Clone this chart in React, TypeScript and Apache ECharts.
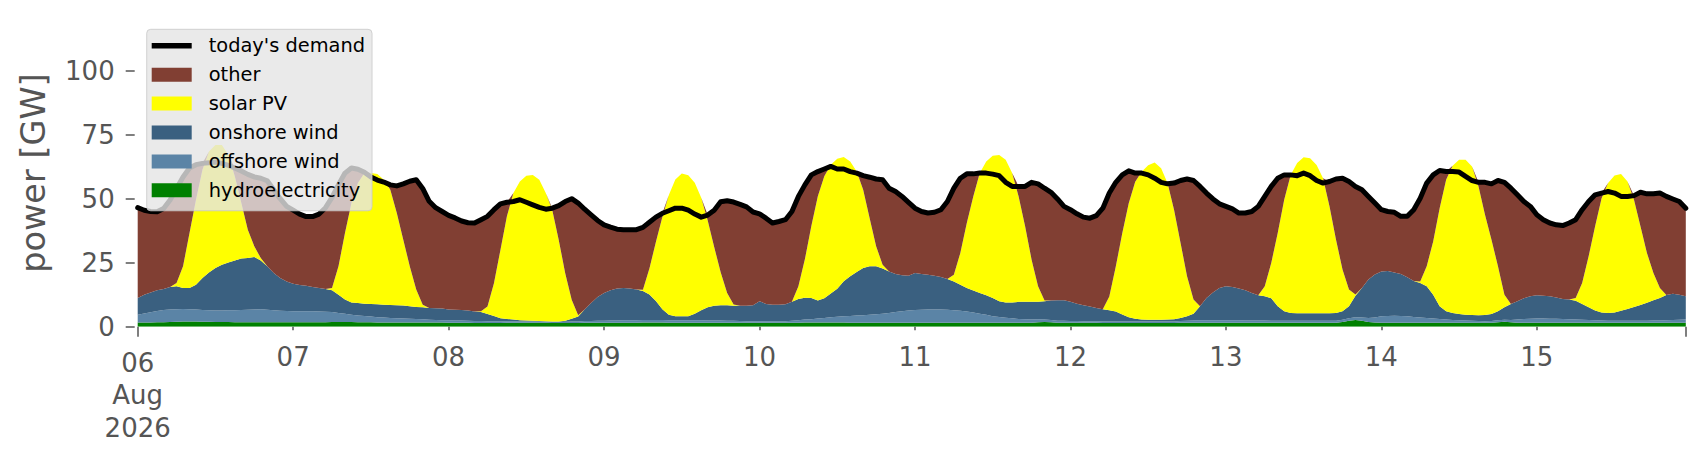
import React, { useEffect, useRef } from "react";
import * as echarts from "echarts";

// x tick labels (one per day at 00:00; the first is the pandas-style major label)
const xTickLabels = ["06\nAug\n2026", "07", "08", "09", "10", "11", "12", "13", "14", "15"];
const yTickValues = [0, 25, 50, 75, 100];

// hourly values in GW, 06 Aug 00:00 .. 15 Aug 23:00 (24 values per row = one day)
const demand = [
  46.5, 45.5, 45, 44.9, 46.2, 49.5, 54, 58.5, 62, 63.3, 63.8, 64, 64.3, 63.8, 63, 62, 60.8, 59.5, 58.5, 58, 57, 53.5, 50, 47,
  45.5, 44, 43, 43, 44, 46.5, 50.5, 55.5, 60, 62, 61.5, 60.3, 58.5, 57.3, 56.5, 55.4, 55, 55.8, 56.8, 57.4, 54, 49, 46.5, 45,
  43.5, 42.5, 41.3, 40.6, 40.5, 41.8, 43.1, 45.7, 48, 48.6, 48.9, 49.6, 48.6, 47.6, 46.6, 45.9, 46.3, 47.3, 48.9, 50, 48.3, 45.9, 43.7, 41.5,
  39.8, 38.9, 38.1, 37.9, 37.9, 37.9, 38.8, 40.8, 42.8, 44.3, 45.3, 46.3, 46.3, 45.5, 44, 42.8, 43.6, 45.5, 48.8, 49.2, 48.7, 47.8, 46.8, 44.8,
  44.1, 42.4, 40.5, 41.1, 41.8, 45, 50.9, 55.4, 59.3, 60.6, 61.6, 62.6, 61.6, 61.6, 60.6, 60, 59, 58.4, 57.7, 57.4, 54.1, 52.8, 50.9, 48.6,
  46.3, 45, 44.4, 44.7, 45.7, 48.9, 54.1, 58, 59.7, 59.7, 60, 60, 59.6, 59, 56.4, 54.8, 54.8, 54.8, 56.4, 55.8, 54.1, 52.5, 49.9, 47,
  45.7, 44.1, 42.8, 42.4, 43.4, 46.3, 52.2, 56.4, 59.3, 60.9, 60, 60, 59.3, 58, 56.4, 55.8, 56.1, 57.1, 57.7, 57.1, 54.8, 52.2, 49.9, 48,
  47, 46, 44.4, 44.4, 45, 47, 50.9, 54.8, 58, 59.3, 59.3, 59, 60, 59, 57.1, 56.1, 56.7, 57.7, 58, 56.7, 54.8, 53.5, 50.9, 48.3,
  45.7, 45, 44.7, 43.1, 43.1, 45.7, 50.2, 56.1, 59.3, 61, 60.6, 60.6, 60.4, 58.7, 57.1, 56.4, 56.4, 55.8, 57.1, 56.4, 54.1, 51.5, 48.9, 47,
  43.7, 41.8, 40.5, 39.8, 39.5, 40.5, 41.8, 45.7, 48.9, 51.5, 52.2, 52.8, 52.2, 50.9, 50.9, 51.2, 52.5, 51.9, 51.9, 52.2, 50.9, 49.9, 48.9, 46.3,
];

const hydro = [
  1.6, 1.6, 1.6, 1.7, 1.7, 1.8, 1.9, 2.0, 2.0, 2.0, 1.9, 1.9, 1.8, 1.8, 1.8, 1.7, 1.7, 1.7, 1.7, 1.7, 1.7, 1.7, 1.7, 1.7,
  1.7, 1.7, 1.7, 1.7, 1.7, 1.7, 1.8, 1.8, 1.8, 1.8, 1.7, 1.7, 1.7, 1.6, 1.6, 1.6, 1.6, 1.6, 1.6, 1.6, 1.6, 1.6, 1.6, 1.6,
  1.5, 1.5, 1.5, 1.5, 1.4, 1.4, 1.4, 1.4, 1.4, 1.5, 1.5, 1.5, 1.5, 1.5, 1.5, 1.5, 1.4, 1.4, 1.4, 1.4, 1.4, 1.5, 1.5, 1.5,
  1.5, 1.5, 1.5, 1.5, 1.5, 1.5, 1.6, 1.6, 1.6, 1.6, 1.5, 1.5, 1.5, 1.5, 1.5, 1.5, 1.5, 1.5, 1.5, 1.5, 1.5, 1.5, 1.5, 1.5,
  1.5, 1.5, 1.5, 1.5, 1.5, 1.5, 1.5, 1.6, 1.6, 1.6, 1.6, 1.6, 1.6, 1.6, 1.5, 1.5, 1.5, 1.5, 1.5, 1.5, 1.5, 1.5, 1.5, 1.5,
  1.5, 1.5, 1.5, 1.5, 1.5, 1.5, 1.5, 1.5, 1.5, 1.5, 1.5, 1.5, 1.5, 1.5, 1.5, 1.5, 1.5, 1.5, 1.5, 1.7, 1.8, 1.7, 1.5, 1.5,
  1.5, 1.5, 1.5, 1.5, 1.5, 1.4, 1.4, 1.4, 1.4, 1.4, 1.4, 1.4, 1.4, 1.4, 1.4, 1.4, 1.4, 1.5, 1.5, 1.5, 1.5, 1.5, 1.5, 1.5,
  1.5, 1.5, 1.5, 1.5, 1.5, 1.5, 1.5, 1.5, 1.5, 1.5, 1.5, 1.5, 1.5, 1.5, 1.5, 1.5, 1.5, 1.5, 1.8, 2.3, 2.6, 2.3, 1.8, 1.6,
  1.5, 1.5, 1.5, 1.5, 1.5, 1.5, 1.5, 1.5, 1.5, 1.5, 1.5, 1.5, 1.5, 1.5, 1.5, 1.5, 1.5, 1.5, 1.7, 1.9, 1.7, 1.5, 1.5, 1.5,
  1.5, 1.5, 1.5, 1.5, 1.5, 1.5, 1.5, 1.5, 1.5, 1.5, 1.5, 1.5, 1.5, 1.5, 1.5, 1.5, 1.5, 1.5, 1.5, 1.5, 1.5, 1.5, 1.5, 1.5,
];

const offshoreWind = [
  3.1, 3.6, 4.0, 4.4, 4.8, 4.9, 4.9, 4.9, 4.8, 4.7, 4.6, 4.5, 4.5, 4.5, 4.6, 4.7, 4.8, 4.9, 5.0, 5.1, 4.9, 4.7, 4.5, 4.4,
  4.3, 4.3, 4.3, 4.3, 4.2, 4.1, 3.9, 3.6, 3.3, 2.9, 2.7, 2.5, 2.3, 2.1, 2.0, 1.8, 1.7, 1.6, 1.5, 1.4, 1.3, 1.1, 1.0, 0.9,
  1.0, 0.9, 0.9, 0.8, 0.8, 0.8, 0.7, 0.7, 0.6, 0.6, 0.6, 0.5, 0.5, 0.5, 0.5, 0.5, 0.5, 0.5, 0.5, 0.6, 0.6, 0.7, 0.7, 0.8,
  0.8, 0.9, 0.9, 1.0, 1.0, 1.0, 1.0, 1.0, 1.0, 1.0, 1.0, 1.0, 1.0, 1.0, 1.0, 1.0, 0.9, 0.9, 0.9, 0.8, 0.8, 0.7, 0.6, 0.6,
  0.6, 0.6, 0.6, 0.6, 0.6, 0.8, 1.0, 1.2, 1.3, 1.6, 1.8, 2.1, 2.3, 2.5, 2.7, 2.9, 3.0, 3.2, 3.4, 3.6, 3.9, 4.2, 4.5, 4.8,
  5.0, 5.1, 5.2, 5.2, 5.2, 5.1, 4.9, 4.7, 4.4, 4.0, 3.6, 3.2, 2.6, 2.3, 2.0, 1.8, 1.5, 1.4, 1.3, 1.2, 1.0, 0.9, 0.8, 0.8,
  0.7, 0.7, 0.6, 0.6, 0.6, 0.6, 0.6, 0.6, 0.6, 0.6, 0.6, 0.6, 0.6, 0.6, 0.6, 0.6, 0.6, 0.7, 0.8, 0.9, 1.0, 1.0, 1.0, 1.0,
  1.0, 1.0, 1.0, 0.9, 0.9, 0.9, 0.9, 0.8, 0.8, 0.8, 0.8, 0.8, 0.8, 0.8, 0.8, 0.8, 0.8, 0.8, 0.9, 1.0, 1.1, 1.3, 1.6, 2.0,
  2.6, 2.7, 2.8, 2.7, 2.6, 2.3, 2.1, 1.9, 1.7, 1.5, 1.3, 1.1, 1.0, 0.9, 0.8, 0.7, 0.6, 0.7, 0.8, 0.8, 0.9, 1.3, 1.5, 1.6,
  1.7, 1.7, 1.6, 1.6, 1.5, 1.4, 1.3, 1.2, 1.1, 1.0, 0.9, 0.8, 0.8, 0.8, 0.8, 0.8, 0.8, 0.8, 0.9, 0.9, 1.0, 1.1, 1.2, 1.3,
];

const onshoreWind = [
  6.5, 7.3, 7.8, 8.1, 8.2, 8.8, 9.0, 8.2, 8.3, 9.7, 12.5, 14.8, 16.6, 17.9, 18.7, 19.5, 20.1, 20.2, 20.5, 19.1, 17.0, 14.6, 12.8, 11.6,
  10.8, 10.3, 10.0, 9.5, 9.2, 8.9, 8.5, 7.1, 5.5, 4.8, 4.9, 4.8, 4.9, 5.1, 5.0, 5.1, 5.1, 5.1, 4.9, 4.7, 4.7, 4.6, 4.6, 4.6,
  4.2, 4.2, 4.1, 4.0, 3.7, 3.5, 2.9, 2.1, 1.3, 0.9, 0.7, 0.5, 0.4, 0.3, 0.2, 0.1, 0.1, 0.1, 0.4, 1.1, 2.0, 4.5, 7.1, 9.3,
  10.9, 11.8, 12.5, 12.6, 12.4, 12.0, 11.3, 10.0, 7.4, 4.2, 2.2, 1.6, 1.6, 1.6, 2.6, 3.9, 5.2, 5.8, 6.0, 6.1, 5.9, 6.0, 6.1, 6.3,
  7.8, 6.8, 6.5, 6.5, 6.7, 7.4, 8.3, 8.5, 8.3, 7.0, 7.7, 9.3, 10.9, 13.7, 15.5, 17.0, 18.4, 18.9, 18.7, 17.6, 16.2, 14.9, 14.1, 13.6,
  14.5, 14.0, 13.6, 13.2, 12.7, 12.0, 11.3, 10.2, 9.2, 8.6, 8.1, 7.6, 7.1, 6.1, 6.0, 6.2, 6.7, 6.8, 6.9, 6.8, 7.1, 7.6, 8.0, 8.0,
  7.5, 6.8, 6.3, 5.8, 5.2, 4.8, 4.4, 3.9, 2.8, 1.7, 1.1, 0.8, 0.7, 0.7, 0.7, 0.8, 0.9, 1.2, 1.8, 2.7, 5.5, 8.7, 10.9, 12.6,
  13.3, 13.0, 12.4, 11.8, 10.8, 9.9, 9.5, 8.8, 5.7, 3.7, 3.1, 3.0, 3.0, 3.0, 3.0, 3.0, 3.0, 3.1, 3.3, 4.7, 8.4, 11.5, 15.0, 16.8,
  17.5, 17.6, 16.9, 16.4, 15.2, 14.1, 13.5, 12.4, 9.3, 5.0, 3.2, 2.8, 2.5, 2.3, 2.3, 2.3, 2.5, 2.8, 3.5, 4.9, 6.3, 7.1, 8.1, 8.8,
  9.1, 8.9, 8.8, 8.3, 7.8, 7.7, 7.3, 6.2, 5.0, 3.8, 3.1, 3.1, 3.2, 3.9, 4.6, 5.4, 6.2, 7.1, 7.9, 8.8, 9.9, 10.3, 9.8, 9.1,
];

const solarPV = [
  0, 0, 0, 0, 0, 0, 1.3, 8.5, 21.5, 33.2, 42.3, 47.2, 48.1, 46.8, 42, 32.8, 21.7, 11.1, 4.2, 0.9, 0, 0, 0, 0,
  0, 0, 0, 0, 0, 0, 0.9, 11.1, 26, 38.8, 46.8, 51, 51.1, 50.8, 48.8, 45, 36, 25.7, 15.6, 6.8, 1.0, 0, 0, 0,
  0, 0, 0, 0, 0, 0.3, 2.9, 12.8, 26.7, 40.1, 49.4, 54.2, 56.6, 57, 55.2, 50.1, 43.6, 31.9, 18.6, 7.4, 0.5, 0, 0, 0,
  0, 0, 0, 0, 0, 0, 0.5, 10.1, 23.1, 36.1, 46.7, 53.4, 55.7, 55.1, 51.1, 44, 33.9, 22.9, 12.9, 4.8, 0.5, 0, 0, 0,
  0, 0, 0, 0, 0, 0, 5, 15, 28.1, 40.8, 47.7, 50.3, 50.8, 48.5, 44.8, 39.2, 30.6, 18.8, 7.8, 1.5, 0, 0, 0, 0,
  0, 0, 0, 0, 0, 0, 2.6, 12.4, 25.4, 36.8, 46.8, 52.2, 55.6, 57.2, 55.7, 50.5, 41.2, 29.5, 16.5, 6.1, 0.3, 0, 0, 0,
  0, 0, 0, 0, 0, 0, 5.4, 17.6, 31.7, 44.5, 53.5, 57.7, 60.4, 61.4, 59.2, 53.2, 42.7, 29.3, 15.6, 5.5, 0, 0, 0, 0,
  0, 0, 0, 0, 0, 0, 3.9, 13.8, 28.6, 43.6, 53.9, 58.6, 60.9, 60.5, 57.9, 52.7, 41.7, 28.6, 16.3, 6.5, 0.5, 0, 0, 0,
  0, 0, 0, 0, 0, 0, 0.6, 7.8, 20.8, 38.3, 51.4, 57.5, 60.2, 60.5, 58, 50.3, 39.1, 29, 17.6, 4.9, 0, 0, 0, 0,
  0, 0, 0, 0, 0, 0, 1.1, 8.2, 19.9, 32.9, 44.7, 50.7, 53.6, 53.4, 49.8, 41.9, 30.7, 19.4, 10.7, 3.9, 0, 0, 0, 0,
];

const FONT = "DejaVu Sans";
const GREY = "#555555";

export default function App() {
  const ref = useRef<HTMLDivElement>(null);

  useEffect(() => {
    if (!ref.current) return;
    const chart = echarts.init(ref.current, undefined, { renderer: "svg" });

    const n = demand.length;
    const lastHour = n - 1;
    // hourly category keys (index of the hour since 06 Aug 00:00)
    const hours = demand.map((_, i) => String(i));
    // "other" fills the gap between the renewables and the demand line
    const other = demand.map((d, i) =>
      Math.max(0, +(d - hydro[i] - offshoreWind[i] - onshoreWind[i] - solarPV[i]).toFixed(2))
    );

    const area = (name: string, data: number[], color: string) => ({
      name,
      type: "line",
      stack: "total",
      data,
      color,
      symbol: "none",
      showSymbol: false,
      smooth: false,
      lineStyle: { width: 0, color },
      itemStyle: { color },
      areaStyle: { color, opacity: 1 },
      emphasis: { disabled: true },
      z: 2,
    });

    const labelStyle = {
      color: GREY,
      fontFamily: FONT,
      fontSize: 26,
      lineHeight: 32.5,
      align: "center",
      verticalAlign: "top",
    };

    chart.setOption({
      animation: false,
      backgroundColor: "#ffffff",
      grid: {
        left: 129.7,
        top: 11.5,
        width: 1548.1,
        height: 307.2,
        containLabel: false,
        outerBoundsMode: "none",
      },
      legend: {
        show: true,
        orient: "vertical",
        left: 138.7,
        top: 21.3,
        padding: [7, 7, 11, 5],
        itemGap: 9.9,
        itemWidth: 40,
        itemHeight: 14,
        backgroundColor: "rgba(229,229,229,0.8)",
        borderColor: "rgba(200,200,200,0.8)",
        borderWidth: 1,
        borderRadius: 4,
        selectedMode: false,
        textStyle: {
          fontFamily: FONT,
          fontSize: 19.4,
          color: "#000000",
          padding: [0, 0, 0, 12],
        },
        data: [
          { name: "today's demand", icon: "path://M0,0H80V11H0Z", itemStyle: { color: "#000000" } },
          { name: "other", icon: "rect" },
          { name: "solar PV", icon: "rect" },
          { name: "onshore wind", icon: "rect" },
          { name: "offshore wind", icon: "rect" },
          { name: "hydroelectricity", icon: "rect" },
        ],
        z: 10,
      },
      xAxis: [
        {
          // day (minor) ticks and labels
          type: "category",
          data: hours,
          boundaryGap: false,
          offset: 3,
          axisLine: { show: false },
          splitLine: { show: false },
          axisTick: {
            show: true,
            length: 3.5,
            lineStyle: { color: GREY, width: 1.5 },
            interval: (i: number) => i % 24 === 0 && i > 0,
          },
          axisLabel: {
            show: true,
            interval: (i: number) => i % 24 === 0 && i > 0,
            formatter: (_v: string, i: number) => xTickLabels[i / 24] ?? "",
            margin: 11.5,
            ...labelStyle,
          },
        },
        {
          // major ticks at both ends, month/year label at the start
          type: "category",
          data: hours,
          boundaryGap: false,
          position: "bottom",
          offset: 0,
          axisLine: { show: false },
          splitLine: { show: false },
          axisTick: {
            show: true,
            length: 10,
            lineStyle: { color: GREY, width: 1.5 },
            interval: (i: number) => i === 0 || i === lastHour,
          },
          axisLabel: {
            show: true,
            interval: (i: number) => i === 0,
            formatter: (_v: string, i: number) => (i === 0 ? xTickLabels[0] : ""),
            margin: 20,
            ...labelStyle,
          },
        },
      ],
      yAxis: {
        type: "value",
        min: 0,
        max: 120,
        offset: 3,
        name: "power [GW]",
        nameLocation: "middle",
        nameGap: 84,
        nameTextStyle: { color: GREY, fontFamily: FONT, fontSize: 33.5 },
        axisLine: { show: false },
        splitLine: { show: false },
        axisTick: {
          show: true,
          length: 9,
          lineStyle: { color: GREY, width: 1.5 },
          customValues: yTickValues,
        },
        axisLabel: {
          show: true,
          customValues: yTickValues,
          color: GREY,
          fontFamily: FONT,
          fontSize: 26,
          margin: 20,
        },
      },
      series: [
        area("hydroelectricity", hydro, "#008000"),
        area("offshore wind", offshoreWind, "#5b84a6"),
        area("onshore wind", onshoreWind, "#3a6080"),
        area("solar PV", solarPV, "#ffff00"),
        area("other", other, "#813f33"),
        {
          name: "today's demand",
          type: "line",
          data: demand,
          color: "#000000",
          symbol: "none",
          showSymbol: false,
          smooth: false,
          lineStyle: { color: "#000000", width: 5, join: "round", cap: "round" },
          itemStyle: { color: "#000000" },
          emphasis: { disabled: true },
          z: 5,
        },
      ],
    });

    return () => chart.dispose();
  }, []);

  return <div ref={ref} style={{ width: 1690, height: 444 }} />;
}
